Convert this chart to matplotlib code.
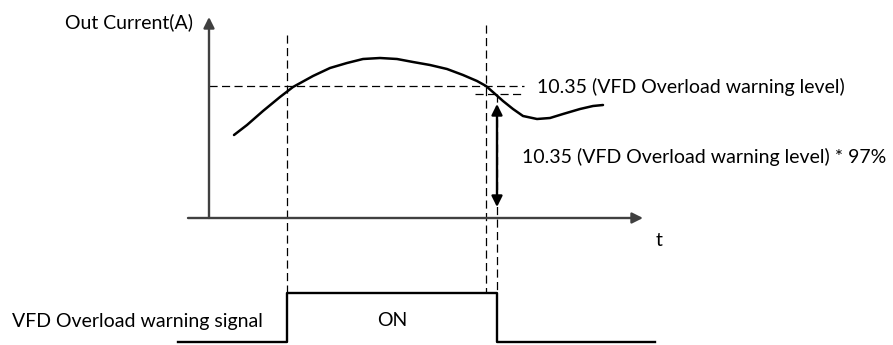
import matplotlib.pyplot as plt

# canvas is laid out in pixel units (x right, y down)
W, H = 893, 345

# output current curve
curve_x = [234, 247, 263, 280, 293, 313, 330, 347, 363, 380, 397, 413, 430,
           447, 463, 477, 486, 494, 503, 513, 523, 537, 550, 563, 580, 593, 603]
curve_y = [135, 125, 111, 97, 87, 76, 68, 63, 59, 58, 59, 62, 65,
           69, 75, 81, 86, 93, 101, 109, 116, 119, 118, 114, 109, 106, 105]

level_y = 86          # 10.35 A warning level
level97_y = 94        # 97 % of warning level
t_on = 287            # signal goes ON
t_cross = 486         # current falls below the level
t_off = 497           # signal goes OFF (below 97 %)

axis_x0, axis_y0 = 209, 218
sig_hi, sig_lo = 293, 342

label_level = "10.35 (VFD Overload warning level)"
label_level97 = "10.35 (VFD Overload warning level) * 97%"

plt.rcParams['font.family'] = ['Lato', 'DejaVu Sans']
fs = 14

fig = plt.figure(figsize=(W / 100, H / 100), dpi=100)
ax = fig.add_axes([0, 0, 1, 1])
ax.set_xlim(0, W)
ax.set_ylim(H, 0)
ax.axis('off')

axis_col = '#404040'
dash = dict(color='black', lw=0.9, ls=(0, (6.5, 3.5)))

# axes with arrow heads
ax.annotate('', xy=(axis_x0, 17), xytext=(axis_x0, axis_y0),
            arrowprops=dict(arrowstyle='-|>', color=axis_col, lw=1.7, mutation_scale=16, shrinkA=0, shrinkB=0))
ax.annotate('', xy=(643, axis_y0), xytext=(188, axis_y0),
            arrowprops=dict(arrowstyle='-|>', color=axis_col, lw=1.7, mutation_scale=16, shrinkA=0, shrinkB=0))
ax.text(193, 22, 'Out Current(A)', ha='right', va='center', fontsize=fs)
ax.text(659, 240, 't', ha='center', va='center', fontsize=fs)

# dashed reference lines
ax.plot([axis_x0, 524], [level_y, level_y], **dash)
ax.plot([475, 524], [level97_y, level97_y], **dash)
ax.plot([t_on, t_on], [35, sig_hi], **dash)
ax.plot([t_cross, t_cross], [25, sig_hi], **dash)
ax.plot([t_off, t_off], [level97_y, sig_hi], **dash)

# current curve
ax.plot(curve_x, curve_y, color='black', lw=1.8, solid_capstyle='round', solid_joinstyle='round')

# double arrow for 97 % band
ax.annotate('', xy=(t_off, 104), xytext=(t_off, 207),
            arrowprops=dict(arrowstyle='<|-|>', color='black', lw=1.7, mutation_scale=16, shrinkA=0, shrinkB=0))

ax.text(537, level_y + 1, label_level, ha='left', va='center', fontsize=fs)
ax.text(522, 157, label_level97, ha='left', va='center', fontsize=fs)

# warning signal
sig_x = [178, t_on, t_on, t_off, t_off, 655]
sig_y = [sig_lo, sig_lo, sig_hi, sig_hi, sig_lo, sig_lo]
ax.plot(sig_x, sig_y, color='black', lw=1.7)
ax.text((t_on + t_off) / 2, 320, 'ON', ha='center', va='center', fontsize=fs)
ax.text(12, 322, 'VFD Overload warning signal', ha='left', va='center', fontsize=fs)

fig.savefig('out.png', dpi=100)
